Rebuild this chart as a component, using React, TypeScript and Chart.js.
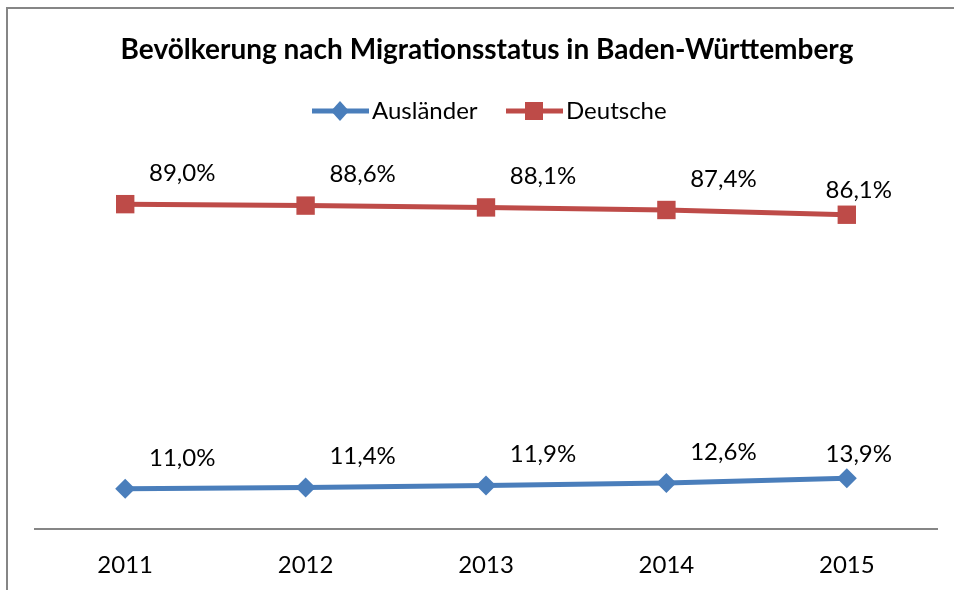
import React, { useEffect, useRef } from "react";
import { Chart, registerables } from "chart.js";

Chart.register(...registerables);

const years = ["2011", "2012", "2013", "2014", "2015"];
const auslaender = [11.0, 11.4, 11.9, 12.6, 13.9];
const deutsche = [89.0, 88.6, 88.1, 87.4, 86.1];
const titleText = "Bevölkerung nach Migrationsstatus in Baden-Württemberg";
const seriesNames = ["Ausländer", "Deutsche"];
const BLUE = "#4A7EBB";
const RED = "#BE4B48";
const FONT = "Lato, 'Open Sans', sans-serif";

const fmt = (v: number) => v.toFixed(1).replace(".", ",") + "%";

const decorPlugin = {
  id: "decor",
  beforeDraw(chart: any) {
    const ctx = chart.ctx;
    ctx.save();
    ctx.fillStyle = "#ffffff";
    ctx.fillRect(0, 0, chart.width, chart.height);
    ctx.strokeStyle = "#868686";
    ctx.lineWidth = 2;
    ctx.beginPath();
    ctx.moveTo(7, chart.height + 5);
    ctx.lineTo(7, 8);
    ctx.lineTo(chart.width + 5, 8);
    ctx.stroke();
    // title
    ctx.fillStyle = "#000";
    ctx.font = `bold 28px ${FONT}`;
    ctx.textAlign = "center";
    ctx.textBaseline = "middle";
    ctx.fillText(titleText, 487, 50);
    // legend
    const items = [
      { name: seriesNames[0], color: BLUE, x: 312, style: "diamond" },
      { name: seriesNames[1], color: RED, x: 506, style: "square" },
    ];
    const ly = 111;
    items.forEach((it) => {
      ctx.strokeStyle = it.color;
      ctx.lineWidth = 5;
      ctx.beginPath();
      ctx.moveTo(it.x, ly);
      ctx.lineTo(it.x + 57, ly);
      ctx.stroke();
      ctx.fillStyle = it.color;
      const cx = it.x + 28;
      if (it.style === "diamond") {
        ctx.beginPath();
        ctx.moveTo(cx, ly - 10);
        ctx.lineTo(cx + 9, ly);
        ctx.lineTo(cx, ly + 10);
        ctx.lineTo(cx - 9, ly);
        ctx.closePath();
        ctx.fill();
      } else {
        ctx.fillRect(cx - 9, ly - 9, 18, 18);
      }
      ctx.fillStyle = "#000";
      ctx.font = `24px ${FONT}`;
      ctx.textAlign = "left";
      ctx.textBaseline = "middle";
      ctx.fillText(it.name, it.x + 60, ly);
    });
    ctx.restore();
  },
  afterDatasetsDraw(chart: any) {
    const ctx = chart.ctx;
    ctx.save();
    ctx.fillStyle = "#000";
    ctx.font = `24px ${FONT}`;
    ctx.textAlign = "center";
    ctx.textBaseline = "middle";
    chart.data.datasets.forEach((ds: any, di: number) => {
      const meta = chart.getDatasetMeta(di);
      meta.data.forEach((pt: any, i: number) => {
        const last = i === meta.data.length - 1;
        const dx = last ? 12 : 57;
        const dy = last ? -24 : -31;
        ctx.fillText(fmt(ds.data[i]), pt.x + dx, pt.y + dy);
      });
    });
    ctx.restore();
  },
};

export default function App() {
  const ref = useRef<HTMLCanvasElement>(null);
  useEffect(() => {
    document.body.style.margin = "0";
    const chart = new Chart(ref.current!, {
      type: "line",
      data: {
        labels: years,
        datasets: [
          {
            label: seriesNames[0],
            data: auslaender,
            borderColor: BLUE,
            backgroundColor: BLUE,
            borderWidth: 5,
            pointStyle: "rectRot",
            pointRadius: 10,
            pointBorderWidth: 0,
            tension: 0,
          },
          {
            label: seriesNames[1],
            data: deutsche,
            borderColor: RED,
            backgroundColor: RED,
            borderWidth: 5,
            pointStyle: "rect",
            pointRadius: 13,
            pointBorderWidth: 0,
            tension: 0,
          },
        ],
      },
      options: {
        animation: false,
        responsive: false,
        layout: { padding: { left: 35, right: 17, top: 164, bottom: 0 } },
        plugins: {
          legend: { display: false },
          title: { display: false },
          tooltip: { enabled: false },
        },
        scales: {
          y: { display: false, min: 0, max: 100 },
          x: {
            offset: true,
            grid: { display: false, drawTicks: false },
            border: { display: true, color: "#868686", width: 2 },
            ticks: { color: "#000", font: { family: FONT, size: 24 }, padding: 22 },
            afterFit: (s: any) => {
              s.height = 61;
            },
          },
        },
      },
      plugins: [decorPlugin],
    });
    return () => chart.destroy();
  }, []);
  return <canvas ref={ref} width={954} height={590} style={{ display: "block" }} />;
}
